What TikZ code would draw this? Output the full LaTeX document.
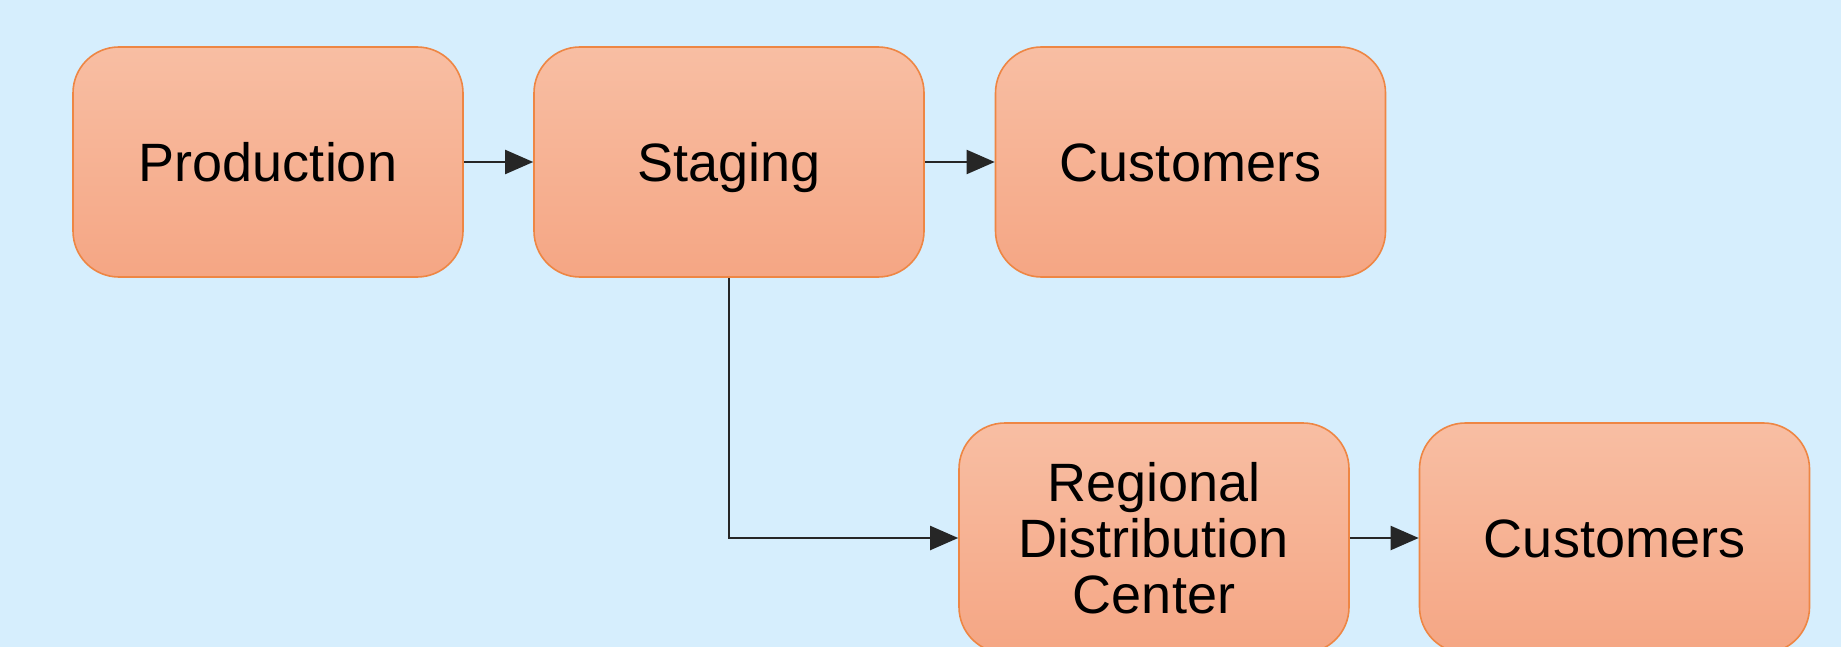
\documentclass[tikz,border=0pt]{standalone}
\usepackage{fontspec}
\setmainfont{Liberation Sans}
\usetikzlibrary{arrows.meta}
\definecolor{bg}{HTML}{D6EEFD}
\definecolor{boxtop}{HTML}{F8BEA3}
\definecolor{boxbot}{HTML}{F5A684}
\definecolor{boxline}{HTML}{EE8644}
\tikzset{
  flowbox/.style={draw=boxline, line width=0.8pt, rounded corners=23pt,
    top color=boxtop, bottom color=boxbot,
    minimum width=195pt, minimum height=115pt, align=center,
    font=\fontsize{27}{28}\selectfont, text=black, inner sep=0pt},
  oneline/.style={flowbox, text height=19.7pt, text depth=0pt},
  flowarrow/.style={draw=black!85, line width=1pt, -{Triangle[length=14pt,width=12pt]}}
}
\begin{document}
\begin{tikzpicture}[x=0.5pt,y=-0.5pt]
\fill[bg] (0,0) rectangle (1841,647);
\useasboundingbox (0,0) rectangle (1841,647);
\node[oneline] (prod) at (268,162) {Production};
\node[oneline] (stg) at (729,162) {Staging};
\node[oneline] (cust1) at (1190.5,162) {Customers};
\node[flowbox] (rdc) at (1154,538) {Regional\\Distribution\\Center};
\node[oneline] (cust2) at (1614.5,538) {Customers};
\draw[flowarrow] (prod) -- (stg);
\draw[flowarrow] (stg) -- (cust1);
\draw[flowarrow] (stg.south) |- (rdc.west);
\draw[flowarrow] (rdc) -- (cust2);
\end{tikzpicture}
\end{document}
